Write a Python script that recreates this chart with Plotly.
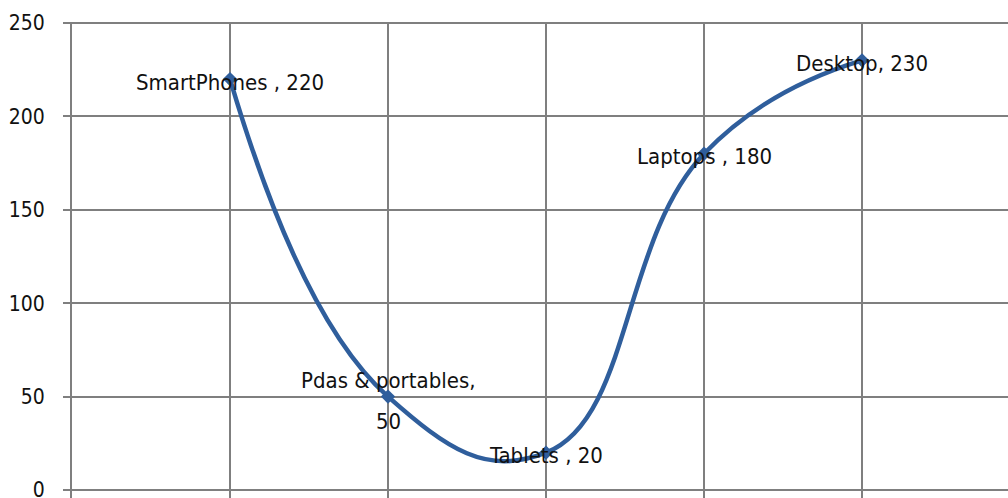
import plotly.graph_objects as go

categories = ["SmartPhones", "Pdas & portables", "Tablets", "Laptops", "Desktop"]
values = [220, 50, 20, 180, 230]
labels = ["SmartPhones , 220", "Pdas & portables,\n50", "Tablets , 20", "Laptops , 180", "Desktop, 230"]
y_ticks = [0, 50, 100, 150, 200, 250]

FONT = "Liberation Sans Narrow, Arial Narrow, DejaVu Sans Condensed, sans-serif"
LINE = "#2F5E9C"
GRID = "#7F7F7F"

fig = go.Figure()
fig.add_trace(go.Scatter(
    x=categories, y=values,
    mode="lines+markers",
    line=dict(color=LINE, width=4.5, shape="spline", smoothing=1.3),
    marker=dict(symbol="diamond", size=11, color=LINE),
    hoverinfo="skip",
))

# data labels, centred on each point (multi-line labels spread a little wider)
for cat, val, lab in zip(categories, values, labels):
    lines = lab.split("\n")
    if len(lines) == 1:
        shifts = [-3]
    else:
        shifts = [16, -25]
    for line_text, ys in zip(lines, shifts):
        fig.add_annotation(
            x=cat, y=val, text=line_text, showarrow=False,
            xanchor="center", yanchor="middle", yshift=ys,
            font=dict(family=FONT, size=22, color="#111111"),
        )

fig.update_layout(
    width=1008, height=498,
    margin=dict(l=72, r=0, t=22, b=0),
    paper_bgcolor="white", plot_bgcolor="white",
    showlegend=False,
    xaxis=dict(
        type="category", categoryarray=categories,
        range=[-1, 4.924], automargin=False,
        showgrid=True, gridcolor=GRID, gridwidth=2,
        showticklabels=False, ticks="",
        showline=False, zeroline=False,
    ),
    yaxis=dict(
        range=[-4.28, 250.54], tickvals=y_ticks, automargin=False,
        showgrid=True, gridcolor=GRID, gridwidth=2,
        ticks="outside", ticklen=7, tickcolor=GRID, tickwidth=2,
        tickfont=dict(family=FONT, size=21, color="#111111"),
        ticklabelstandoff=14, ticklabeloverflow="allow",
        showline=True, linecolor=GRID, linewidth=2,
        zeroline=True, zerolinecolor=GRID, zerolinewidth=2,
    ),
)

fig.write_html("out.html")
